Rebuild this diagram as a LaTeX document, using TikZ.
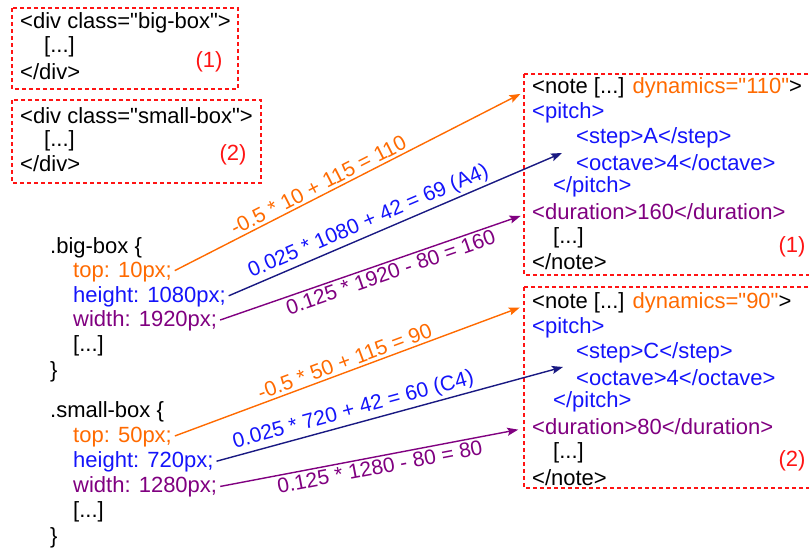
\documentclass[tikz,border=0pt]{standalone}
\usepackage{fontspec}
\newfontfamily\codefont{Liberation Sans}
\usetikzlibrary{
    arrows.meta,  % arrow tips
    positioning,  % relative placement
}
\definecolor{boxred}{RGB}{255,20,20}
\definecolor{topcol}{RGB}{255,106,0}
\definecolor{heightcol}{RGB}{20,20,250}
\definecolor{heightline}{RGB}{25,25,130}
\definecolor{widthcol}{RGB}{128,0,128}
\tikzset{
    code/.style={anchor=west, inner sep=0pt, font=\codefont\fontsize{22}{26}\selectfont},
    redbox/.style={draw=boxred, line width=1.3pt, dash pattern=on 4pt off 3pt},
    tag/.style={text=boxred, inner sep=0pt, font=\codefont\fontsize{22}{26}\selectfont},
    link/.style={line width=1.4pt, -{Stealth[length=11pt, width=8pt, inset=2pt]}, shorten <=3pt},
    formula/.style={sloped, inner sep=2.5pt, font=\codefont\fontsize{21}{25}\selectfont},
}

\begin{document}
\begin{tikzpicture}[x=1pt, y=-1pt]
    \useasboundingbox (0, 0) rectangle (809, 549);

    % html boxes
    \draw[redbox] (12, 8) rectangle (238, 89);
    \node[code] (divA) at (20, 23) {<div class="big-box">};
    \node[code] (dotsA) at (44, 47) {[...]};
    \node[code] (enddivA) at (20, 72) {</div>};
    \node[tag] (numA) at (209, 62) {(1)};

    \draw[redbox] (12, 100) rectangle (261, 183);
    \node[code] (divB) at (20, 116) {<div class="small-box">};
    \node[code] (dotsB) at (44, 141) {[...]};
    \node[code] (enddivB) at (20, 164) {</div>};
    \node[tag] (numB) at (233, 155) {(2)};

    % css rules
    \node[code] (cssA) at (50, 248) {.big-box \{};
    \node[code, text=topcol] (topA) at (73, 272) {top: 10px;};
    \node[code, text=heightcol] (heightA) at (73, 297) {height: 1080px;};
    \node[code, text=widthcol] (widthA) at (73, 321) {width: 1920px;};
    \node[code] (moreA) at (73, 346) {[...]};
    \node[code] (closeA) at (50, 372) {\}};

    \node[code] (cssB) at (50, 412) {.small-box \{};
    \node[code, text=topcol] (topB) at (73, 437) {top: 50px;};
    \node[code, text=heightcol] (heightB) at (73, 462) {height: 720px;};
    \node[code, text=widthcol] (widthB) at (73, 487) {width: 1280px;};
    \node[code] (moreB) at (73, 512) {[...]};
    \node[code] (closeB) at (50, 538) {\}};

    % musicxml notes
    \draw[redbox] (524, 74) rectangle (815, 275);
    \node[code] (noteA) at (532, 88) {<note [...] \textcolor{topcol}{dynamics="110"}>};
    \node[code, text=heightcol] (pitchA) at (532, 113) {<pitch>};
    \node[code, text=heightcol] (stepA) at (576, 138) {<step>A</step>};
    \node[code, text=heightcol] (octA) at (576, 163) {<octave>4</octave>};
    \node[code, text=heightcol] (endpitchA) at (553, 187) {</pitch>};
    \node[code, text=widthcol] (durA) at (532, 212) {<duration>160</duration>};
    \node[code] (restA) at (553, 238) {[...]};
    \node[code] (endnoteA) at (532, 262) {</note>};
    \node[tag] (numC) at (792, 247) {(1)};

    \draw[redbox] (524, 287) rectangle (815, 488);
    \node[code] (noteB) at (532, 303) {<note [...] \textcolor{topcol}{dynamics="90"}>};
    \node[code, text=heightcol] (pitchB) at (532, 328) {<pitch>};
    \node[code, text=heightcol] (stepB) at (576, 353) {<step>C</step>};
    \node[code, text=heightcol] (octB) at (576, 378) {<octave>4</octave>};
    \node[code, text=heightcol] (endpitchB) at (553, 402) {</pitch>};
    \node[code, text=widthcol] (durB) at (532, 427) {<duration>80</duration>};
    \node[code] (restB) at (553, 453) {[...]};
    \node[code] (endnoteB) at (532, 478) {</note>};
    \node[tag] (numD) at (792, 461) {(2)};

    \coordinate (intoA) at (562, 153);
    \coordinate (intoB) at (563, 367);

    % mappings
    \draw[link, topcol, shorten >=13pt] (topA.east) -- (noteA.west)
        node[formula, above, pos=0.42] {-0.5 * 10 + 115 = 110};
    \draw[link, heightline] (heightA.east) -- (intoA)
        node[formula, above, pos=0.44, text=heightcol] {0.025 * 1080 + 42 = 69 (A4)};
    \draw[link, widthcol, shorten >=12pt] (widthA.east) -- (durA.west)
        node[formula, below, pos=0.54] {0.125 * 1920 - 80 = 160};

    \draw[link, topcol, shorten >=13pt] (topB.east) -- (noteB.west)
        node[formula, above, pos=0.49] {-0.5 * 50 + 115 = 90};
    \draw[link, heightline] (heightB.east) -- (intoB)
        node[formula, above, pos=0.41, text=heightcol] {0.025 * 720 + 42 = 60 (C4)};
    \draw[link, widthcol, shorten >=14pt] (widthB.east) -- (durB.west)
        node[formula, below, pos=0.51] {0.125 * 1280 - 80 = 80};
\end{tikzpicture}
\end{document}
